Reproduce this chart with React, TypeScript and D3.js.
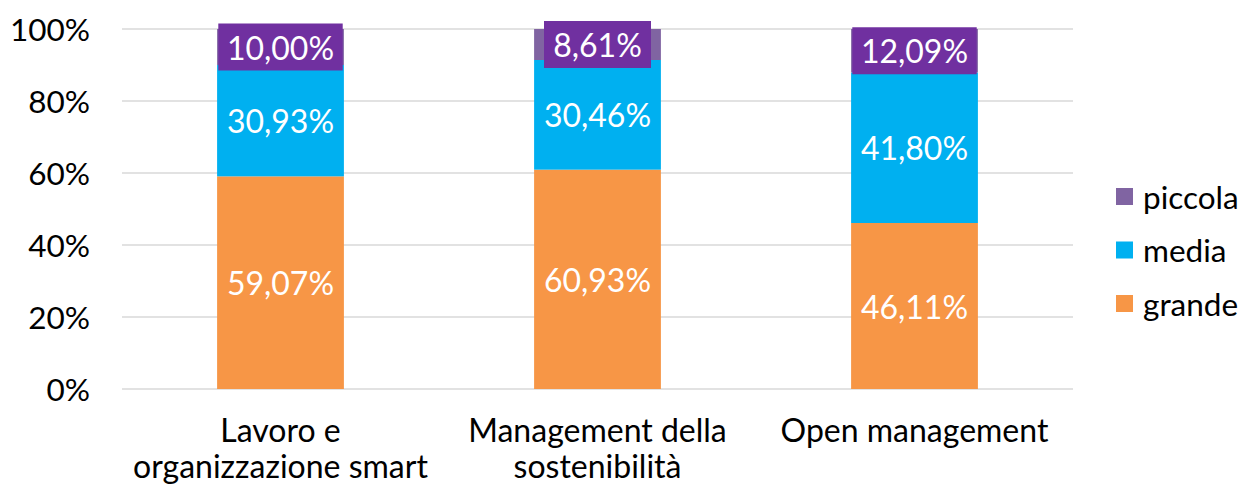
import React from "react";
import * as d3 from "d3";

const categories = [["Lavoro e", "organizzazione smart"], ["Management della", "sostenibilità"], ["Open management"]];
const seriesNames = ["grande", "media", "piccola"];
const grande = [59.07, 60.93, 46.11];
const media = [30.93, 30.46, 41.8];
const piccola = [10.0, 8.61, 12.09];
const yTicks = [0, 20, 40, 60, 80, 100];
const colors = ["#F79646", "#00B0F0", "#8064A2"];
const labelBoxColor = "#7030A0";

const W = 1243;
const H = 484;
const FONT = "Lato, 'Noto Sans', sans-serif";

export default function App() {
  const x = d3.scaleBand<number>().domain([0, 1, 2]).range([122, 1073]).paddingInner(0.6).paddingOuter(0.3);
  const y = d3.scaleLinear().domain([0, 100]).range([389, 29]);
  const rows = categories.map((_, i) => ({ i, grande: grande[i], media: media[i], piccola: piccola[i] }));
  const stack = d3.stack<any>().keys(seriesNames)(rows);
  const fmt = (v: number) => v.toFixed(2).replace(".", ",") + "%";

  return (
    <svg width={W} height={H} style={{ position: "absolute", left: 0, top: 0, display: "block" }} fontFamily={FONT}>
      {yTicks.map((t) => (
        <g key={t}>
          <line x1={122} x2={1073} y1={y(t)} y2={y(t)} stroke="#D9D9D9" strokeWidth={1.3} />
          <text x={90} y={y(t)} textAnchor="end" dominantBaseline="central" fontSize={31.5} fill="#000">
            {t}%
          </text>
        </g>
      ))}
      {stack.map((s, si) => (
        <g key={si}>
          {s.map((d, i) => (
            <rect key={i} x={x(i)} width={x.bandwidth()} y={y(d[1])} height={y(d[0]) - y(d[1])} fill={colors[si]} />
          ))}
        </g>
      ))}
      {stack.map((s, si) =>
        s.map((d, i) => {
          const cx = (x(i) as number) + x.bandwidth() / 2;
          const cy = (y(d[0]) + y(d[1])) / 2;
          const label = fmt(d[1] - d[0]);
          const tw = label.length * 17.4;
          return (
            <g key={`l${si}-${i}`}>
              {si === 2 && (
                <rect x={cx - tw / 2 - 10} y={cy - 23.5} width={tw + 20} height={47} fill={labelBoxColor} />
              )}
              <text x={cx} y={cy} textAnchor="middle" dominantBaseline="central" fontSize={32} fill="#fff">
                {label}
              </text>
            </g>
          );
        })
      )}
      {categories.map((lines, i) => {
        const cx = (x(i) as number) + x.bandwidth() / 2;
        return (
          <text key={i} x={cx} textAnchor="middle" fontSize={32} fill="#000">
            {lines.map((l, li) => (
              <tspan key={li} x={cx} y={442 + li * 36}>
                {l}
              </tspan>
            ))}
          </text>
        );
      })}
      {[2, 1, 0].map((si, k) => (
        <g key={si} transform={`translate(1116, ${188 + k * 53.5})`}>
          <rect width={17} height={17} fill={colors[si]} />
          <text x={27} y={8.5} dominantBaseline="central" fontSize={31.5} fill="#000">
            {seriesNames[si]}
          </text>
        </g>
      ))}
    </svg>
  );
}
